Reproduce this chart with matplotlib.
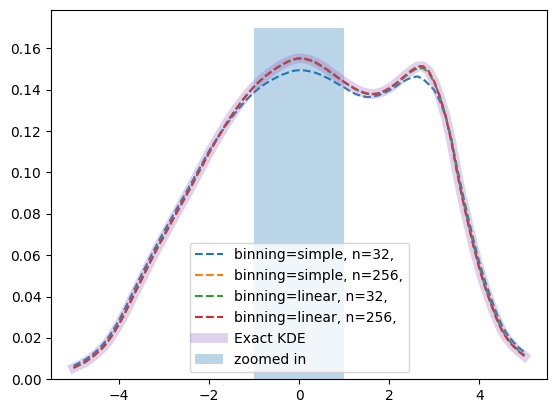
import numpy as np
import matplotlib
matplotlib.use("Agg")
import matplotlib.pyplot as plt

# puntos de evaluacion, paso 0.125 entre -5 y 5
x = np.linspace(-5, 5, 81)

# KDE exacto
exact = [0.0055, 0.0068, 0.0082, 0.0100, 0.0122, 0.0147, 0.0178, 0.0218, 0.0262,
         0.0313, 0.0368, 0.0423, 0.0478, 0.0533, 0.0588, 0.0640, 0.0690, 0.0740,
         0.0790, 0.0839, 0.0888, 0.0938, 0.0990, 0.1040, 0.1092, 0.1140, 0.1186,
         0.1231, 0.1273, 0.1313, 0.1350, 0.1384, 0.1414, 0.1441, 0.1465, 0.1486,
         0.1505, 0.1522, 0.1536, 0.1547, 0.1552, 0.1550, 0.1543, 0.1531, 0.1515,
         0.1497, 0.1477, 0.1457, 0.1438, 0.1420, 0.1404, 0.1391, 0.1382, 0.1379,
         0.1382, 0.1392, 0.1407, 0.1426, 0.1449, 0.1472, 0.1494, 0.1512, 0.1514,
         0.1490, 0.1438, 0.1365, 0.1272, 0.1152, 0.1005, 0.0872, 0.0752, 0.0638,
         0.0535, 0.0445, 0.0368, 0.0295, 0.0235, 0.0192, 0.0160, 0.0134, 0.0112]

simple_32 = [0.0065, 0.0079, 0.0094, 0.0112, 0.0135, 0.0162, 0.0195, 0.0237, 0.0282,
             0.0335, 0.0391, 0.0447, 0.0503, 0.0557, 0.0611, 0.0662, 0.0712, 0.0761,
             0.0810, 0.0858, 0.0906, 0.0954, 0.1004, 0.1052, 0.1102, 0.1145, 0.1186,
             0.1226, 0.1263, 0.1298, 0.1330, 0.1360, 0.1386, 0.1409, 0.1428, 0.1445,
             0.1459, 0.1472, 0.1482, 0.1491, 0.1494, 0.1493, 0.1488, 0.1481, 0.1470,
             0.1457, 0.1442, 0.1426, 0.1411, 0.1394, 0.1379, 0.1370, 0.1364, 0.1365,
             0.1372, 0.1382, 0.1396, 0.1412, 0.1431, 0.1447, 0.1459, 0.1464, 0.1452,
             0.1426, 0.1398, 0.1345, 0.1270, 0.1167, 0.1030, 0.0902, 0.0783, 0.0669,
             0.0565, 0.0475, 0.0397, 0.0322, 0.0260, 0.0215, 0.0181, 0.0153, 0.0130]

simple_256 = [0.0056, 0.0069, 0.0083, 0.0101, 0.0123, 0.0148, 0.0179, 0.0219, 0.0263,
              0.0314, 0.0369, 0.0424, 0.0479, 0.0534, 0.0589, 0.0641, 0.0691, 0.0741,
              0.0791, 0.0840, 0.0889, 0.0939, 0.0991, 0.1041, 0.1092, 0.1140, 0.1186,
              0.1230, 0.1272, 0.1312, 0.1349, 0.1383, 0.1413, 0.1440, 0.1464, 0.1485,
              0.1504, 0.1521, 0.1535, 0.1546, 0.1551, 0.1549, 0.1542, 0.1530, 0.1514,
              0.1496, 0.1476, 0.1456, 0.1437, 0.1419, 0.1403, 0.1390, 0.1381, 0.1378,
              0.1381, 0.1391, 0.1406, 0.1425, 0.1448, 0.1471, 0.1493, 0.1510, 0.1512,
              0.1489, 0.1438, 0.1366, 0.1273, 0.1154, 0.1007, 0.0874, 0.0754, 0.0640,
              0.0537, 0.0447, 0.0370, 0.0297, 0.0237, 0.0194, 0.0162, 0.0136, 0.0113]

linear_32 = [0.0057, 0.0070, 0.0085, 0.0103, 0.0126, 0.0151, 0.0182, 0.0222, 0.0266,
             0.0317, 0.0372, 0.0427, 0.0482, 0.0537, 0.0592, 0.0644, 0.0694, 0.0744,
             0.0794, 0.0843, 0.0892, 0.0942, 0.0994, 0.1044, 0.1095, 0.1143, 0.1188,
             0.1232, 0.1273, 0.1312, 0.1349, 0.1383, 0.1413, 0.1440, 0.1464, 0.1485,
             0.1504, 0.1520, 0.1534, 0.1545, 0.1550, 0.1548, 0.1541, 0.1529, 0.1513,
             0.1495, 0.1475, 0.1455, 0.1436, 0.1418, 0.1402, 0.1389, 0.1380, 0.1377,
             0.1380, 0.1390, 0.1405, 0.1423, 0.1445, 0.1467, 0.1488, 0.1503, 0.1504,
             0.1482, 0.1435, 0.1366, 0.1278, 0.1160, 0.1013, 0.0880, 0.0760, 0.0646,
             0.0543, 0.0452, 0.0375, 0.0301, 0.0241, 0.0197, 0.0165, 0.0138, 0.0116]

# linear con n=256 coincide con el exacto a esta escala
linear_256 = list(exact)

zoom_center = 0
zoom_width = 2
zoom_height = 0.17

fig = plt.figure(figsize=(5.56, 4.13), dpi=100)
ax = fig.add_axes([51 / 556, 33.7 / 413, 496 / 556, 369.3 / 413])

ax.plot(x, simple_32, '--', label='binning=simple, n=32,')
ax.plot(x, simple_256, '--', label='binning=simple, n=256,')
ax.plot(x, linear_32, '--', label='binning=linear, n=32,')
ax.plot(x, linear_256, '--', label='binning=linear, n=256,')
ax.plot(x, exact, color='C4', alpha=0.3, lw=7, label='Exact KDE')
ax.bar(zoom_center, zoom_height, width=zoom_width, color='C0', alpha=0.3, label='zoomed in')

ax.legend(loc='lower center')
fig.savefig('out.png', dpi=100)
